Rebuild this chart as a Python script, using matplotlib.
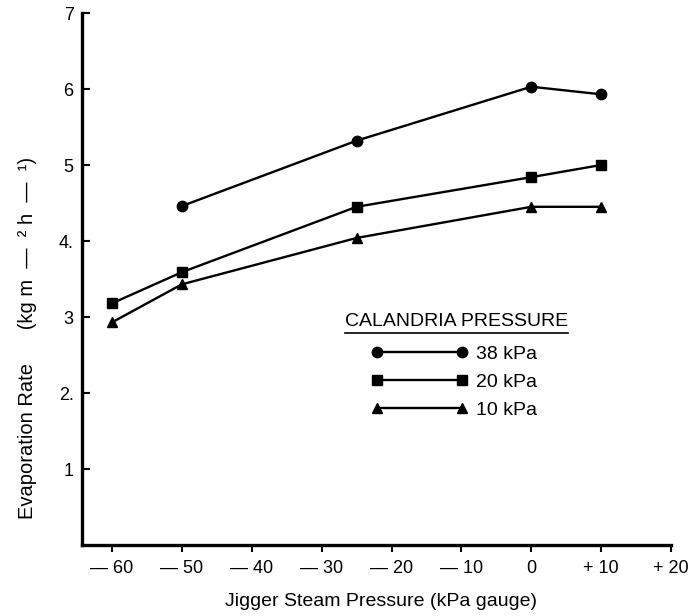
import matplotlib
matplotlib.use("Agg")
import matplotlib.pyplot as plt
from matplotlib.lines import Line2D

plt.rcParams["font.family"] = ["Liberation Sans", "DejaVu Sans"]

# jigger steam pressure (kPa gauge)
x_38 = [-50, -25, 0, 10]
y_38 = [4.46, 5.32, 6.03, 5.93]

x_20 = [-60, -50, -25, 0, 10]
y_20 = [3.18, 3.59, 4.45, 4.84, 5.0]

x_10 = [-60, -50, -25, 0, 10]
y_10 = [2.93, 3.43, 4.04, 4.45, 4.45]

xticks = [-60, -50, -40, -30, -20, -10, 0, 10, 20]
xtick_labels = ["— 60", "— 50", "— 40", "— 30", "— 20", "— 10", "0", "+ 10", "+ 20"]
yticks = [1, 2, 3, 4, 5, 6, 7]
ytick_labels = ["1", "2.", "3", "4.", "5", "6", "7"]

fig = plt.figure(figsize=(6.97, 6.16), dpi=100)
ax = fig.add_axes([82 / 697, 1 - 545 / 616, 589 / 697, 532 / 616])

ax.plot(x_38, y_38, color="black", lw=1.7, marker="o", ms=7.5, label="38 kPa")
ax.plot(x_20, y_20, color="black", lw=1.7, marker="s", ms=6.5, label="20 kPa")
ax.plot(x_10, y_10, color="black", lw=1.7, marker="^", ms=7, label="10 kPa")

ax.set_xlim(-64.3, 20)
ax.set_ylim(0, 7)
ax.spines["top"].set_visible(False)
ax.spines["right"].set_visible(False)
ax.spines["left"].set_linewidth(2.4)
ax.spines["bottom"].set_linewidth(2.4)

ax.set_xticks(xticks)
ax.set_xticklabels(xtick_labels, fontsize=13)
ax.set_yticks(yticks)
ax.set_yticklabels(ytick_labels, fontsize=13)
ax.tick_params(axis="x", direction="out", length=5, width=1.5, pad=6)
ax.tick_params(axis="y", direction="in", length=6, width=1.5, pad=6)

fig.text(28 / 697, 1 - 338 / 616,
         "Evaporation Rate      (kg m  —  ² h  —  ¹)",
         rotation=90, ha="center", va="center", fontsize=14.5)
fig.text(381 / 697, 1 - 601 / 616, "Jigger Steam Pressure (kPa gauge)",
         ha="center", va="center", fontsize=14)

leg = ax.legend(loc="upper left", bbox_to_anchor=(371 / 697, 1 - 345 / 616),
                bbox_transform=fig.transFigure, frameon=False, fontsize=14,
                numpoints=2, handlelength=5.0, handletextpad=0.4,
                borderpad=0, borderaxespad=0, labelspacing=0.55)

title = fig.text(345 / 697, 1 - 322 / 616, "CALANDRIA PRESSURE",
                 ha="left", va="center", fontsize=14)
fig.canvas.draw()
bb = title.get_window_extent()
fig.add_artist(Line2D([bb.x0 / 697, bb.x1 / 697],
                      [(bb.y0 - 2) / 616, (bb.y0 - 2) / 616],
                      transform=fig.transFigure, color="black", lw=1.2))

fig.savefig("out.png", dpi=100)
